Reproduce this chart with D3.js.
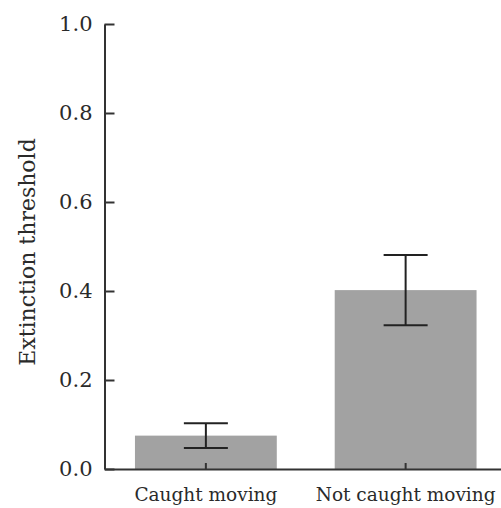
<!DOCTYPE html>
<html>
<head>
<meta charset="utf-8">
<script src="https://cdn.jsdelivr.net/npm/d3@7"></script>
<style>
    body { margin: 0; background: #fff; }
    svg { display: block; }
</style>
</head>
<body>
<svg id="chart" width="501" height="508"></svg>
<script>
var categories = ['Caught moving', 'Not caught moving'];
var means = [0.075, 0.402];
var errors = [0.028, 0.079];
var yTicks = [0, 0.2, 0.4, 0.6, 0.8, 1.0];

(function() {
    var svg = d3.select('#chart');
    var x0 = 104.5, x1 = 507, yTop = 24, yBottom = 469;
    var fontFamily = '"DejaVu Serif", serif';
    var axisColor = '#333333';

    var x = d3.scaleBand()
        .domain(categories)
        .range([x0, x1])
        .paddingInner(0.29)
        .paddingOuter(0.1525);
    var y = d3.scaleLinear().domain([0, 1]).range([yBottom, yTop]);

    var data = categories.map(function(c, i) {
        return {name: c, mean: means[i], err: errors[i]};
    });

    // bars
    svg.append('g')
        .selectAll('rect')
        .data(data)
        .enter().append('rect')
        .attr('x', function(d) { return x(d.name); })
        .attr('y', function(d) { return y(d.mean); })
        .attr('width', x.bandwidth())
        .attr('height', function(d) { return y(0) - y(d.mean); })
        .attr('fill', '#a2a2a2');

    // error bars
    var capHalf = 22;
    var eb = svg.append('g')
        .attr('stroke', '#222222')
        .attr('stroke-width', 2);
    data.forEach(function(d) {
        var cx = x(d.name) + x.bandwidth() / 2;
        eb.append('line')
            .attr('x1', cx).attr('x2', cx)
            .attr('y1', y(d.mean + d.err)).attr('y2', y(d.mean - d.err));
        eb.append('line')
            .attr('x1', cx - capHalf).attr('x2', cx + capHalf)
            .attr('y1', y(d.mean + d.err)).attr('y2', y(d.mean + d.err));
        eb.append('line')
            .attr('x1', cx - capHalf).attr('x2', cx + capHalf)
            .attr('y1', y(d.mean - d.err)).attr('y2', y(d.mean - d.err));
    });

    // y axis
    var yAxis = svg.append('g')
        .attr('transform', 'translate(' + x0 + ',0)')
        .call(d3.axisLeft(y)
            .tickValues(yTicks)
            .tickFormat(d3.format('.1f'))
            .tickSizeInner(-10)
            .tickSizeOuter(0)
            .tickPadding(12));

    // x axis
    var xAxis = svg.append('g')
        .attr('transform', 'translate(0,' + yBottom + ')')
        .call(d3.axisBottom(x)
            .tickSizeInner(-6)
            .tickSizeOuter(0)
            .tickPadding(19));

    [yAxis, xAxis].forEach(function(a) {
        a.select('.domain').attr('stroke', axisColor).attr('stroke-width', 2);
        a.selectAll('.tick line').attr('stroke', axisColor).attr('stroke-width', 2);
        a.selectAll('.tick text')
            .attr('fill', '#2a2a2a')
            .style('font-family', fontFamily);
    });
    yAxis.selectAll('.tick text').style('font-size', '21px');
    xAxis.selectAll('.tick text').style('font-size', '18.5px');

    // y label
    svg.append('text')
        .attr('transform', 'translate(35,252) rotate(-90)')
        .attr('text-anchor', 'middle')
        .attr('fill', '#2a2a2a')
        .style('font-family', fontFamily)
        .style('font-size', '22px')
        .text('Extinction threshold');
})();
</script>
</body>
</html>
